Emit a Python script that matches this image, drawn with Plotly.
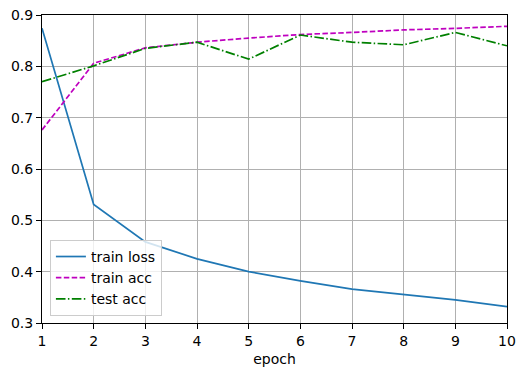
import plotly.graph_objects as go

epochs = [1, 2, 3, 4, 5, 6, 7, 8, 9, 10]
train_loss = [0.874, 0.531, 0.458, 0.425, 0.400, 0.382, 0.366, 0.356, 0.345, 0.332]
train_acc = [0.676, 0.806, 0.836, 0.847, 0.855, 0.862, 0.866, 0.871, 0.874, 0.878]
test_acc = [0.770, 0.801, 0.835, 0.847, 0.814, 0.861, 0.847, 0.842, 0.866, 0.840]

y_ticks = [0.3, 0.4, 0.5, 0.6, 0.7, 0.8, 0.9]
x_ticks = epochs

fig = go.Figure()
fig.add_trace(go.Scatter(x=epochs, y=train_loss, mode="lines", name="train loss",
                         line=dict(color="#1f77b4", width=1.7)))
fig.add_trace(go.Scatter(x=epochs, y=train_acc, mode="lines", name="train acc",
                         line=dict(color="#bf00bf", width=1.7, dash="5.5px,2.4px")))
fig.add_trace(go.Scatter(x=epochs, y=test_acc, mode="lines", name="test acc",
                         line=dict(color="#008000", width=1.7, dash="9.6px,2.4px,1.5px,2.4px")))

font = "DejaVu Sans"
fig.update_layout(
    width=525, height=376,
    margin=dict(l=42, r=18, t=15, b=53, autoexpand=False),
    paper_bgcolor="white", plot_bgcolor="white",
    font=dict(family=font, size=14, color="black"),
    showlegend=True,
    legend=dict(x=0.017, y=0.023, xanchor="left", yanchor="bottom",
                bgcolor="rgba(255,255,255,0.8)", bordercolor="#cccccc", borderwidth=1,
                font=dict(family=font, size=14), tracegroupgap=0),
)
fig.update_xaxes(range=[1, 10], tickvals=x_ticks, ticktext=[str(v) for v in x_ticks],
                 showgrid=True, gridcolor="#b0b0b0", gridwidth=1,
                 showline=True, linecolor="black", linewidth=1, mirror=True,
                 ticks="outside", ticklen=5, tickcolor="black", automargin=False,
                 title=dict(text="epoch", font=dict(size=14), standoff=6), zeroline=False)
fig.update_yaxes(range=[0.3, 0.9], tickvals=y_ticks, ticktext=[f"{v:.1f}" for v in y_ticks],
                 showgrid=True, gridcolor="#b0b0b0", gridwidth=1,
                 showline=True, linecolor="black", linewidth=1, mirror=True,
                 ticks="outside", ticklen=5, tickcolor="black", automargin=False, zeroline=False)

fig.write_html("out.html", config={"displayModeBar": False},
               post_script="document.body.style.margin='0';")
